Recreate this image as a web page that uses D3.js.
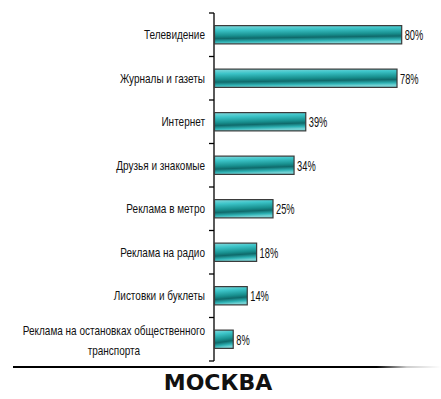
<!DOCTYPE html>
<html>
<head>
<meta charset="utf-8">
<script src="https://cdn.jsdelivr.net/npm/d3@7"></script>
<style>
  body { margin: 0; background: #fff; }
  .lbl { font-family: "Liberation Sans", Arial, sans-serif; font-size: 12.5px; fill: #111; }
  .val { font-family: "Liberation Sans", Arial, sans-serif; font-size: 15px; fill: #111; }
</style>
</head>
<body>
<div id="chart"></div>
<script>
// categories, top to bottom
let categories = [
  'Телевидение',
  'Журналы и газеты',
  'Интернет',
  'Друзья и знакомые',
  'Реклама в метро',
  'Реклама на радио',
  'Листовки и буклеты',
  'Реклама на остановках общественного транспорта'
];
// percent values
let values = [80, 78, 39, 34, 25, 18, 14, 8];
let valueLabels = ['80%', '78%', '39%', '34%', '25%', '18%', '14%', '8%'];
let cityTitle = 'МОСКВА';

let width = 441,
  height = 399;

// the original uses a narrow font, so squeeze the text horizontally
let lblSqueeze = 0.8,
  valSqueeze = 0.62;

let svg = d3.select('#chart')
  .append('svg')
  .attr('width', width)
  .attr('height', height);

// gradient for the bars (dark band across the middle)
let defs = svg.append('defs');
let grad = defs.append('linearGradient')
  .attr('id', 'barGrad')
  .attr('x1', 0).attr('y1', 0)
  .attr('x2', 0.15).attr('y2', 1);
grad.append('stop').attr('offset', '0%').attr('stop-color', '#86dade');
grad.append('stop').attr('offset', '25%').attr('stop-color', '#3cc4c8');
grad.append('stop').attr('offset', '55%').attr('stop-color', '#18908f');
grad.append('stop').attr('offset', '70%').attr('stop-color', '#0f6a6b');
grad.append('stop').attr('offset', '88%').attr('stop-color', '#2eb2b4');
grad.append('stop').attr('offset', '100%').attr('stop-color', '#74d2d4');

let axisX = 214;

let x = d3.scaleLinear().domain([0, 100]).range([axisX, axisX + 234]);

let y = d3.scaleBand()
  .domain(categories)
  .range([13, 361])
  .paddingInner(0.58)
  .paddingOuter(0.29);

// axis line with ticks between categories
let step = y.step();
let boundaries = d3.range(categories.length + 1).map(function (i) {
  return 13 + i * step;
});
svg.append('line')
  .attr('x1', axisX).attr('x2', axisX)
  .attr('y1', 13).attr('y2', 361)
  .attr('stroke', '#000').attr('stroke-width', 1.3);
svg.selectAll('.tick')
  .data(boundaries)
  .enter()
  .append('line')
  .attr('class', 'tick')
  .attr('x1', axisX - 5).attr('x2', axisX)
  .attr('y1', function (d) { return d; })
  .attr('y2', function (d) { return d; })
  .attr('stroke', '#000').attr('stroke-width', 1.3);

// bars
svg.selectAll('rect.bar')
  .data(values)
  .enter()
  .append('rect')
  .attr('class', 'bar')
  .attr('x', x(0) + 0.5)
  .attr('y', function (d, i) { return y(categories[i]); })
  .attr('width', function (d) { return x(d) - x(0); })
  .attr('height', y.bandwidth())
  .attr('fill', 'url(#barGrad)')
  .attr('stroke', '#3a3a3a')
  .attr('stroke-width', 1.2);

// value labels
svg.selectAll('text.val')
  .data(values)
  .enter()
  .append('text')
  .attr('class', 'val')
  .attr('transform', function (d, i) {
    let cy = y(categories[i]) + y.bandwidth() / 2;
    return 'translate(' + (x(d) + 3.5) + ',' + cy + ') scale(' + valSqueeze + ',1)';
  })
  .attr('dy', '0.36em')
  .text(function (d, i) { return valueLabels[i]; });

function label(txt, px, py, anchor) {
  return svg.append('text')
    .attr('class', 'lbl')
    .attr('text-anchor', anchor)
    .attr('transform', 'translate(' + px + ',' + py + ') scale(' + lblSqueeze + ',1)')
    .attr('dy', '0.36em')
    .text(txt);
}

// category labels (last one wraps onto two lines)
categories.forEach(function (c, i) {
  let cy = y(c) + y.bandwidth() / 2;
  if (i === categories.length - 1) {
    let t1 = label('Реклама на остановках общественного', 205, cy - 9, 'end');
    let len = t1.node().getComputedTextLength() * lblSqueeze;
    label('транспорта', 205 - len / 2, cy + 11, 'middle');
  } else {
    label(c, 205, cy, 'end');
  }
});

// bottom rule that fades out on the right
let lineGrad = defs.append('linearGradient')
  .attr('id', 'lineGrad')
  .attr('gradientUnits', 'userSpaceOnUse')
  .attr('x1', 13).attr('x2', 441).attr('y1', 0).attr('y2', 0);
lineGrad.append('stop').attr('offset', '0%').attr('stop-color', '#000');
lineGrad.append('stop').attr('offset', '85%').attr('stop-color', '#000');
lineGrad.append('stop').attr('offset', '92%').attr('stop-color', '#ccc');
lineGrad.append('stop').attr('offset', '100%').attr('stop-color', '#fff');
svg.append('rect')
  .attr('x', 13).attr('y', 366)
  .attr('width', 428).attr('height', 2)
  .attr('fill', 'url(#lineGrad)');

svg.append('text')
  .attr('x', 218)
  .attr('y', 390)
  .attr('text-anchor', 'middle')
  .style('font-family', '"DejaVu Sans", sans-serif')
  .style('font-weight', 'bold')
  .style('font-size', '22px')
  .style('fill', '#111')
  .text(cityTitle);
</script>
</body>
</html>
